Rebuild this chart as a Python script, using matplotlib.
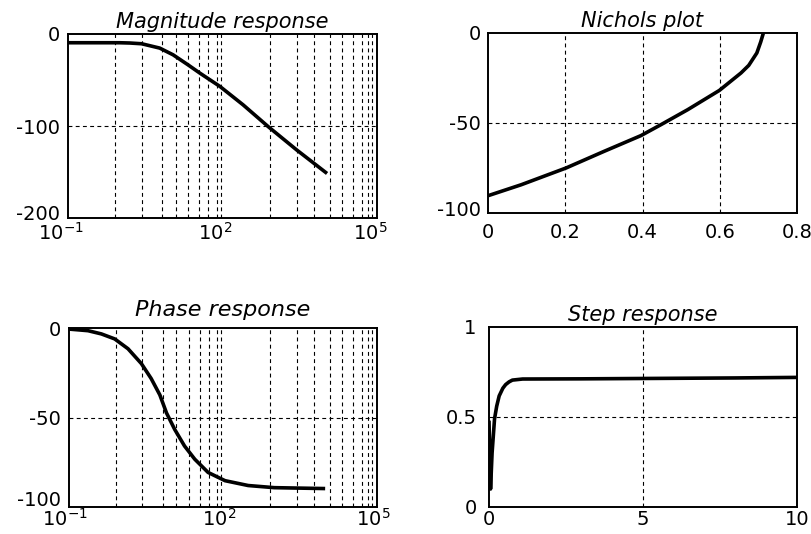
import numpy as np
import matplotlib
matplotlib.use("Agg")
import matplotlib.pyplot as plt
import matplotlib.transforms as mtransforms

plt.rcParams['font.family'] = ['DejaVu Sans']
plt.rcParams['axes.unicode_minus'] = False

# ---- data ----
mag_logw = [-1.0, -0.5, 0.0, 0.2, 0.43, 0.78, 1.04, 1.33, 1.56, 1.95, 2.4, 2.89, 3.44, 4.03]
mag_db = [-9.5, -9.5, -9.5, -9.8, -10.6, -15.3, -22.6, -33.5, -42.5, -57, -77, -100.8, -126, -151.6]

phase_logw = [-1.0, -0.63, -0.37, -0.11, 0.15, 0.41, 0.6, 0.77, 0.9, 1.06, 1.25, 1.45, 1.71,
              2.04, 2.49, 3.0, 3.99]
phase_deg = [-0.6, -1.5, -3.3, -6.1, -11.6, -19.9, -28.2, -37.4, -47.5, -56.7, -65.9, -73.3,
             -80.7, -85.3, -88, -89.2, -89.7]

nich_x = [0, 0.086, 0.202, 0.30, 0.396, 0.448, 0.517, 0.599, 0.655, 0.675, 0.696, 0.706, 0.713]
nich_y = [-90.4, -84.3, -75, -65.8, -57, -50.9, -42.6, -31.9, -22.2, -18, -11.1, -5, 0]

step_t = [0, 0.05, 0.1, 0.18, 0.25, 0.33, 0.45, 0.54, 0.65, 0.76, 1.09, 3, 5, 8, 10]
step_y = [0.48, 0.1, 0.3, 0.49, 0.56, 0.617, 0.66, 0.68, 0.695, 0.705, 0.711, 0.712, 0.714,
          0.717, 0.72]

titles = ["Magnitude response", "Nichols plot", "Phase response", "Step response"]
log_ticks = [0.1, 100, 1e5]
log_ticklabels = [r"$10^{-1}$", r"$10^{2}$", r"$10^{5}$"]

# exponents of the dashed vertical grid lines on the log axes (as drawn in the original)
grid_exp = [-0.09, 0.43, 0.83, 1.09, 1.33, 1.55, 1.72, 1.89, 1.97,
            2.92, 3.44, 3.78, 4.08, 4.32, 4.53, 4.71, 4.82, 4.91]

fig = plt.figure(figsize=(8.11, 5.34), dpi=100)
W, H = 811, 534

def make_ax(l, r, t, b):
    return fig.add_axes([l / W, 1 - b / H, (r - l) / W, (b - t) / H])

ax_tl = make_ax(68, 377, 34, 218)
ax_tr = make_ax(488, 797, 33, 213)
ax_bl = make_ax(69, 377, 328, 507)
ax_br = make_ax(489, 797, 327, 507)

grid_kw = dict(color='black', linewidth=0.8, linestyle=(0, (3.5, 3)))
curve_kw = dict(color='black', linewidth=2.6, solid_capstyle='butt', solid_joinstyle='round')
tfs = 14

def style(ax, title, tsize=15, tpad=4, xpad=3, ypad=6):
    for s in ax.spines.values():
        s.set_linewidth(1.4)
    ax.tick_params(axis='x', length=0, labelsize=tfs, pad=xpad)
    ax.tick_params(axis='y', length=0, labelsize=tfs, pad=ypad)
    ax.set_title(title, fontsize=tsize, style='italic', pad=tpad)

def lift_bottom_ylabel(ax, dy=5):
    lab = ax.get_yticklabels()[0]
    lab.set_transform(lab.get_transform() +
                      mtransforms.ScaledTranslation(0, dy / 72, fig.dpi_scale_trans))

def shift_xlabels(ax, dx=-6):
    for lab in ax.get_xticklabels():
        lab.set_transform(lab.get_transform() +
                          mtransforms.ScaledTranslation(dx / 72, 0, fig.dpi_scale_trans))

def log_grid(ax):
    for e in grid_exp:
        ax.axvline(10 ** e, **grid_kw)

# magnitude
ax = ax_tl
ax.plot(10 ** np.array(mag_logw), mag_db, **curve_kw)
ax.set_xscale('log')
ax.set_xlim(0.1, 1e5)
ax.set_ylim(-200, 0)
ax.set_xticks(log_ticks)
ax.set_xticklabels(log_ticklabels)
ax.minorticks_off()
ax.set_yticks([-200, -100, 0])
ax.axhline(-100, **grid_kw)
log_grid(ax)
style(ax, titles[0])
lift_bottom_ylabel(ax, 4)
shift_xlabels(ax, -5)

# phase
ax = ax_bl
ax.plot(10 ** np.array(phase_logw), phase_deg, **curve_kw)
ax.set_xscale('log')
ax.set_xlim(0.1, 1e5)
ax.set_ylim(-100, 0)
ax.set_xticks(log_ticks)
ax.set_xticklabels(log_ticklabels)
ax.minorticks_off()
ax.set_yticks([-100, -50, 0])
ax.axhline(-50, **grid_kw)
log_grid(ax)
style(ax, titles[2], tsize=16, tpad=9, xpad=1)
lift_bottom_ylabel(ax, 6)
shift_xlabels(ax, -3)

# nichols
ax = ax_tr
ax.plot(nich_x, nich_y, **curve_kw)
ax.set_xlim(0, 0.8)
ax.set_ylim(-100, 0)
ax.set_xticks([0, 0.2, 0.4, 0.6, 0.8])
ax.set_xticklabels(["0", "0.2", "0.4", "0.6", "0.8"])
ax.set_yticks([-100, -50, 0])
for v in [0.2, 0.4, 0.6]:
    ax.axvline(v, **grid_kw)
ax.axhline(-50, **grid_kw)
style(ax, titles[1], xpad=7, ypad=5)
lift_bottom_ylabel(ax, 3)

# step
ax = ax_br
ax.plot(step_t, step_y, **curve_kw)
ax.set_xlim(0, 10)
ax.set_ylim(0, 1)
ax.set_xticks([0, 5, 10])
ax.set_yticks([0, 0.5, 1])
ax.set_yticklabels(["0", "0.5", "1"])
ax.axvline(5, **grid_kw)
ax.axhline(0.5, **grid_kw)
style(ax, titles[3], ypad=9, xpad=2)

fig.savefig("out.png", dpi=100)
